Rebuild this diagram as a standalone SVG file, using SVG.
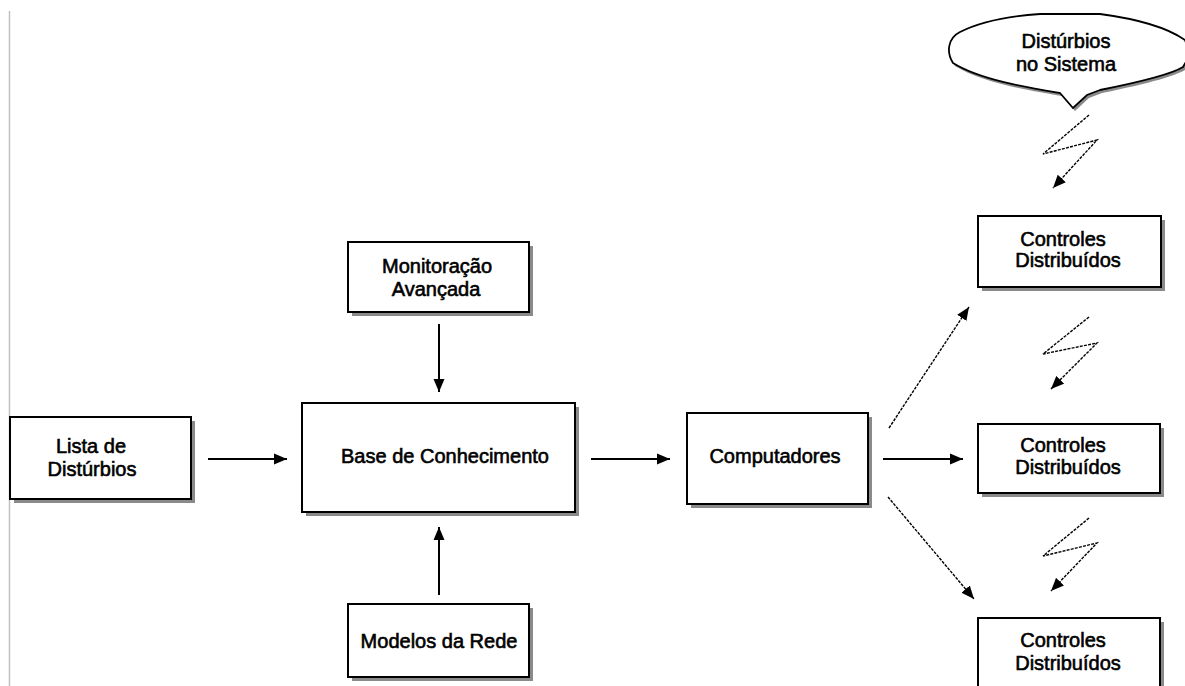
<svg xmlns="http://www.w3.org/2000/svg" width="1185" height="686" viewBox="0 0 1185 686">
<defs>
<style>
.box{fill:#fff;stroke:#000;stroke-width:2}
.sh{fill:#8a8a8a}
.t{font-family:"Liberation Sans",Arial,sans-serif;font-size:20px;fill:#000;stroke:#000;stroke-width:0.6;text-anchor:middle}
.c{fill:none;stroke:#000;stroke-width:2}
.d{fill:none;stroke:#000;stroke-width:1.4;stroke-dasharray:3 1.2}
</style>
<marker id="ah" markerUnits="userSpaceOnUse" markerWidth="14" markerHeight="12" viewBox="0 0 14 12" refX="13" refY="6" orient="auto">
<path d="M0,0.5 L13,6 L0,11.5 Z" fill="#000"/>
</marker>
</defs>
<rect width="1185" height="686" fill="#fff"/>
<line x1="9.5" y1="11" x2="9.5" y2="686" stroke="#c0c0c0" stroke-width="1.5"/>

<g id="lista">
<rect class="sh" x="14" y="421" width="181" height="82"/>
<rect class="box" x="10" y="417" width="181" height="82"/>
<text class="t" x="91" y="453">Lista de</text>
<text class="t" x="92" y="476">Distúrbios</text>
</g>
<g id="monitoracao">
<rect class="sh" x="352" y="246" width="181" height="70"/>
<rect class="box" x="348" y="242" width="181" height="70"/>
<text class="t" x="437" y="273">Monitoração</text>
<text class="t" x="436" y="296">Avançada</text>
</g>
<g id="base">
<rect class="sh" x="306" y="407" width="273" height="109"/>
<rect class="box" x="302" y="403" width="273" height="109"/>
<text class="t" x="445" y="463">Base de Conhecimento</text>
</g>
<g id="modelos">
<rect class="sh" x="352" y="608" width="181" height="73"/>
<rect class="box" x="348" y="604" width="181" height="73"/>
<text class="t" x="439" y="648">Modelos da Rede</text>
</g>
<g id="computadores">
<rect class="sh" x="691" y="417" width="181" height="91"/>
<rect class="box" x="687" y="413" width="181" height="91"/>
<text class="t" x="775" y="463">Computadores</text>
</g>
<g id="controles1">
<rect class="sh" x="982" y="220" width="183" height="71"/>
<rect class="box" x="978" y="216" width="183" height="71"/>
<text class="t" x="1063" y="246">Controles</text>
<text class="t" x="1068" y="267">Distribuídos</text>
</g>
<g id="controles2">
<rect class="sh" x="982" y="428" width="182" height="69"/>
<rect class="box" x="978" y="424" width="182" height="69"/>
<text class="t" x="1063" y="452">Controles</text>
<text class="t" x="1068" y="474">Distribuídos</text>
</g>
<g id="controles3">
<rect class="sh" x="982" y="622" width="182" height="80"/>
<rect class="box" x="978" y="618" width="182" height="80"/>
<text class="t" x="1063" y="647">Controles</text>
<text class="t" x="1068" y="670">Distribuídos</text>
</g>
<g id="disturbios-sistema">
<path d="M953,63 C946,52 948,38 960,32 C980,22 1010,16 1040,14 L1100,14 C1130,18 1165,26 1185,40 L1190,55 L1183,67 C1175,72 1150,80 1100,90 L1087,95 L1073,108 L1060,93 C1030,88 980,80 953,63 Z" fill="#8a8a8a" transform="translate(2,3)"/>
<path d="M953,63 C946,52 948,38 960,32 C980,22 1010,16 1040,14 L1100,14 C1130,18 1165,26 1185,40 L1190,55 L1183,67 C1175,72 1150,80 1100,90 L1087,95 L1073,108 L1060,93 C1030,88 980,80 953,63 Z" fill="#fff" stroke="#000" stroke-width="1.8"/>
<text class="t" x="1066" y="48">Distúrbios</text>
<text class="t" x="1066" y="71">no Sistema</text>
</g>

<g id="connectors">
<line class="c" x1="208" y1="459" x2="287" y2="459" marker-end="url(#ah)"/>
<line class="c" x1="591" y1="459" x2="670" y2="459" marker-end="url(#ah)"/>
<line class="c" x1="883" y1="459" x2="963" y2="459" marker-end="url(#ah)"/>
<line class="c" x1="439" y1="324" x2="439" y2="392" marker-end="url(#ah)"/>
<line class="c" x1="439" y1="595" x2="439" y2="527" marker-end="url(#ah)"/>
<line class="d" x1="889" y1="428" x2="969" y2="307" marker-end="url(#ah)"/>
<line class="d" x1="888" y1="497" x2="974" y2="599" marker-end="url(#ah)"/>
<polyline class="d" points="1089,115 1043,154 1097,140 1053,188" marker-end="url(#ah)"/>
<polyline class="d" points="1089,317 1043,354 1097,343 1051,389" marker-end="url(#ah)"/>
<polyline class="d" points="1089,518 1043,556 1097,543 1051,591" marker-end="url(#ah)"/>
</g>
</svg>
